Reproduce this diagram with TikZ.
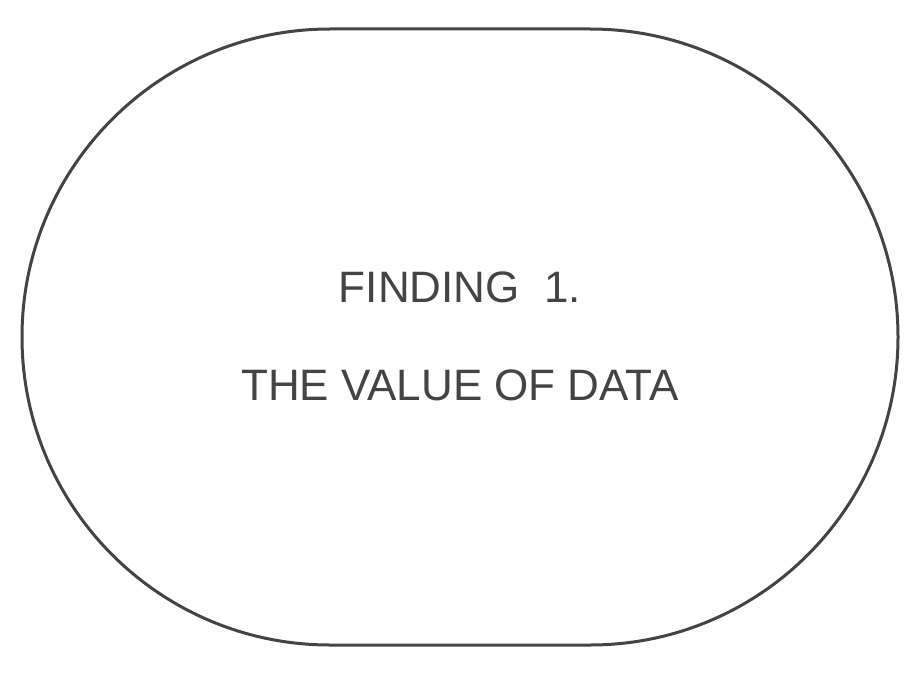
\documentclass[tikz,border=0pt]{standalone}
\usepackage{fontspec}
\setmainfont{Liberation Sans}
\definecolor{ink}{HTML}{444444}
\begin{document}
\begin{tikzpicture}[x=1pt,y=-1pt,
  lbl/.style={text=ink,font=\fontsize{44}{48}\selectfont,inner sep=0pt,anchor=center}]
\useasboundingbox (0,0) rectangle (921,693);
\draw[ink,line width=3pt] (330,29) -- (590,29) arc[start angle=90,end angle=-90,x radius=308,y radius=-308] -- (330,645) arc[start angle=-90,end angle=-270,x radius=308,y radius=-308] -- cycle;
\node[lbl] (t1) at (460,287) {FINDING\ \ 1.};
\node[lbl] (t2) at (460,385) {THE VALUE OF DATA};
\end{tikzpicture}
\end{document}
